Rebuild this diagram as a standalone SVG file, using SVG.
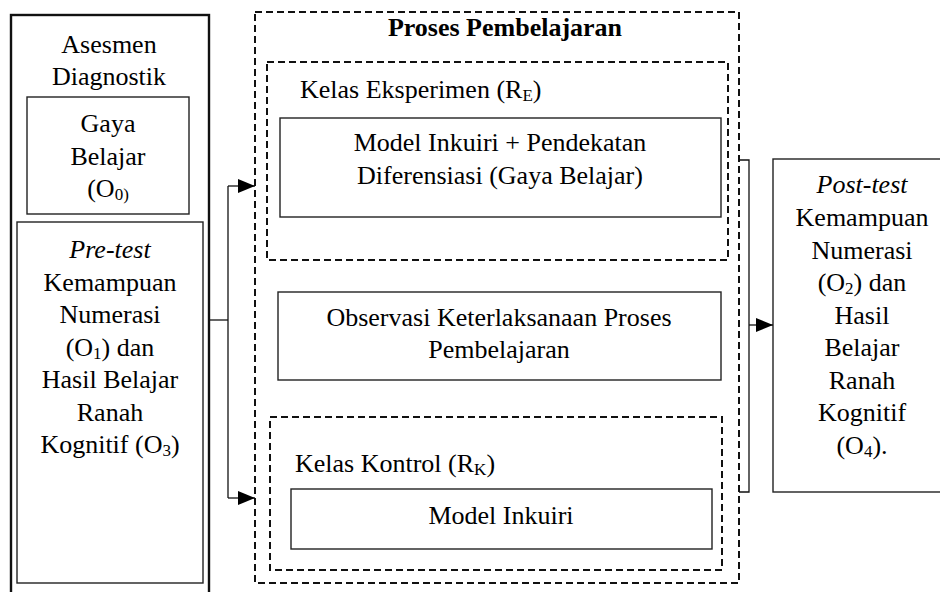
<svg xmlns="http://www.w3.org/2000/svg" width="940" height="592" viewBox="0 0 940 592">
<style>
text{font-family:"Liberation Serif","Times New Roman",serif;font-size:26px;fill:#000}
.c{text-anchor:middle}
.b{font-weight:bold}
.i{font-style:italic}
.s{font-size:17px}
.box{fill:none;stroke:#222;stroke-width:1.4}
.thick{fill:none;stroke:#111;stroke-width:2.4}
.dash{fill:none;stroke:#111;stroke-width:2;stroke-dasharray:7 4}
.ln{fill:none;stroke:#111;stroke-width:1.3}
</style>
<defs>
<marker id="ah" viewBox="0 0 17 14" refX="17" refY="7" markerWidth="17" markerHeight="14" markerUnits="userSpaceOnUse" orient="auto">
<path d="M0,0 L17,7 L0,14 Z" fill="#000"/>
</marker>
</defs>
<rect width="940" height="592" fill="#fff"/>

<g id="asesmen">
<rect class="thick" x="11" y="15" width="198" height="590"/>
<text class="c" x="109" y="53">Asesmen</text>
<text class="c" x="109" y="85">Diagnostik</text>
</g>
<g id="gaya-belajar">
<rect class="box" x="27" y="97" width="162" height="117"/>
<text class="c" x="108" y="132">Gaya</text>
<text class="c" x="108" y="164.5">Belajar</text>
<text class="c" x="108" y="197">(O<tspan class="s" dy="3">0)</tspan></text>
</g>
<g id="pretest">
<rect class="box" x="17" y="222" width="186" height="361"/>
<text class="c i" x="110" y="258">Pre-test</text>
<text class="c" x="110" y="290.5">Kemampuan</text>
<text class="c" x="110" y="323">Numerasi</text>
<text class="c" x="110" y="355.5">(O<tspan class="s" dy="3">1</tspan><tspan dy="-3">) dan</tspan></text>
<text class="c" x="110" y="388">Hasil Belajar</text>
<text class="c" x="110" y="420.5">Ranah</text>
<text class="c" x="110" y="453">Kognitif (O<tspan class="s" dy="3">3</tspan><tspan dy="-3">)</tspan></text>
</g>

<g id="proses">
<rect class="dash" x="255" y="12" width="484" height="571"/>
<text class="c b" x="505" y="36">Proses Pembelajaran</text>
</g>
<g id="kelas-eksperimen">
<rect class="dash" x="267" y="62" width="461" height="198"/>
<text x="300" y="98">Kelas Eksperimen (R<tspan class="s" dy="3">E</tspan><tspan dy="-3">)</tspan></text>
</g>
<g id="model-diferensiasi">
<rect class="box" x="280" y="118" width="441" height="99"/>
<text class="c" x="500" y="151">Model Inkuiri + Pendekatan</text>
<text class="c" x="500" y="184">Diferensiasi (Gaya Belajar)</text>
</g>
<g id="observasi">
<rect class="box" x="278" y="292" width="443" height="88"/>
<text class="c" x="499" y="326">Observasi Keterlaksanaan Proses</text>
<text class="c" x="499" y="358">Pembelajaran</text>
</g>
<g id="kelas-kontrol">
<rect class="dash" x="270" y="417" width="452" height="153"/>
<text x="295" y="472">Kelas Kontrol (R<tspan class="s" dy="3">K</tspan><tspan dy="-3">)</tspan></text>
</g>
<g id="model-inkuiri">
<rect class="box" x="291" y="489" width="421" height="60"/>
<text class="c" x="501" y="524">Model Inkuiri</text>
</g>

<g id="posttest">
<rect class="box" x="773" y="159" width="200" height="333"/>
<text class="c i" x="862" y="193">Post-test</text>
<text class="c" x="862" y="226">Kemampuan</text>
<text class="c" x="862" y="258.5">Numerasi</text>
<text class="c" x="862" y="291">(O<tspan class="s" dy="3">2</tspan><tspan dy="-3">) dan</tspan></text>
<text class="c" x="862" y="323.5">Hasil</text>
<text class="c" x="862" y="356">Belajar</text>
<text class="c" x="862" y="388.5">Ranah</text>
<text class="c" x="862" y="421">Kognitif</text>
<text class="c" x="862" y="453.5">(O<tspan class="s" dy="3">4</tspan><tspan dy="-3">).</tspan></text>
</g>

<g id="connectors">
<polyline class="ln" points="210,320 228,320"/>
<polyline class="ln" points="228,186 228,498"/>
<line class="ln" x1="228" y1="186" x2="255" y2="186" marker-end="url(#ah)"/>
<line class="ln" x1="228" y1="498" x2="255" y2="498" marker-end="url(#ah)"/>
<polyline class="ln" points="739,160 749,160 749,492 739,492"/>
<line class="ln" x1="749" y1="325" x2="773" y2="325" marker-end="url(#ah)"/>
</g>
</svg>
